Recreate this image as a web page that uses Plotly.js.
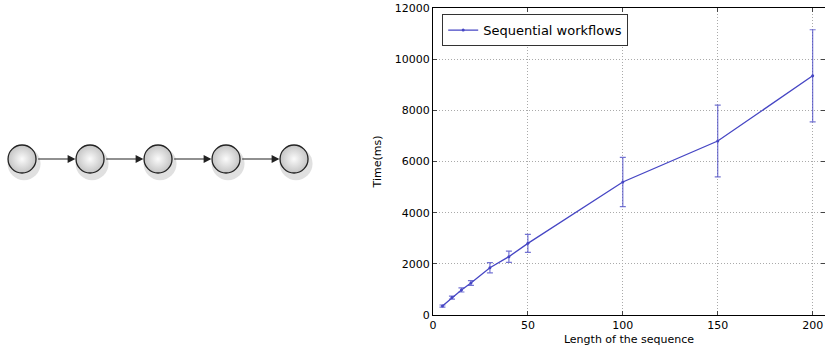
<!DOCTYPE html>
<html><head><meta charset="utf-8">
<script src="https://cdn.plot.ly/plotly-3.0.1.min.js"></script>
<style>html,body{margin:0;padding:0;background:#fff}#c{width:825px;height:350px}</style>
</head><body><div id="c"></div>
<script>
const lengths = [5, 10, 15, 20, 30, 40, 50, 100, 150, 200];
const times = [350, 680, 980, 1250, 1850, 2280, 2800, 5200, 6800, 9350];
const errors = [40, 60, 80, 90, 200, 220, 350, 960, 1400, 1800];
const seriesName = 'Sequential workflows';
const nodes = [1, 2, 3, 4, 5];
const xTicks = [0, 50, 100, 150, 200];
const yTicks = [0, 2000, 4000, 6000, 8000, 10000, 12000];
const yTickText = ['0', '2000', '4000', '6000', '8000', '10000', '12000'];

const blue = '#4646c4';
const traces = [
  {x: nodes.map(v => v + 0.03), y: nodes.map(() => -0.03), xaxis: 'x2', yaxis: 'y2', mode: 'markers',
   marker: {size: 33, color: 'rgba(0,0,0,0.12)', line: {width: 0}}, hoverinfo: 'skip', showlegend: false},
  {x: nodes, y: nodes.map(() => 0), xaxis: 'x2', yaxis: 'y2', mode: 'markers',
   marker: {size: 28, color: '#c4c4c4', gradient: {type: 'radial', color: '#fbfbfb'}, line: {color: '#222', width: 1.3}},
   hoverinfo: 'skip', showlegend: false},
  {x: lengths, y: times, name: seriesName, mode: 'lines+markers', type: 'scatter',
   line: {color: blue, width: 1.3}, marker: {color: blue, size: 3},
   error_y: {type: 'data', array: errors, visible: true, color: 'rgba(70,70,196,0.75)', thickness: 1.2, width: 3}}
];

const annotations = nodes.slice(0, -1).map(n => ({
  xref: 'x2', yref: 'y2', x: n + 1 - 0.215, y: 0, ax: n + 0.215, ay: 0, axref: 'x2', ayref: 'y2',
  showarrow: true, arrowhead: 2, arrowsize: 1.3, arrowwidth: 1.2, arrowcolor: '#222', text: ''
}));

const grid = {showgrid: true, gridcolor: '#aaa', griddash: '1px,2px', gridwidth: 1, zeroline: false};
const layout = {
  width: 825, height: 350, paper_bgcolor: '#fff', plot_bgcolor: '#fff',
  margin: {l: 0, r: 0, t: 8, b: 35},
  font: {family: 'DejaVu Sans', size: 11, color: '#000'},
  showlegend: true,
  legend: {x: 0.536, y: 0.98, xanchor: 'left', yanchor: 'top', bordercolor: '#333', borderwidth: 1,
           bgcolor: '#fff', font: {size: 13}},
  xaxis: Object.assign({domain: [0.5248, 1], range: [0, 206.5], tickvals: xTicks, ticks: 'inside', ticklen: 4,
          showline: true, linecolor: '#000', linewidth: 1, mirror: 'allticks',
          title: {text: 'Length of the sequence', standoff: 4, font: {size: 11}}}, grid),
  yaxis: Object.assign({range: [0, 12000], tickvals: yTicks, ticktext: yTickText, ticks: 'inside', ticklen: 4,
          showline: true, linecolor: '#000', linewidth: 1, mirror: 'allticks',
          title: {text: 'Time(ms)', standoff: 10, font: {size: 11}}}, grid),
  xaxis2: {domain: [0, 0.4], range: [0.676, 5.529], visible: false, fixedrange: true},
  yaxis2: {domain: [0, 1], range: [-1, 0.968], visible: false, anchor: 'x2', fixedrange: true},
  annotations: annotations
};
Plotly.newPlot('c', traces, layout, {displayModeBar: false, staticPlot: true});
</script></body></html>
